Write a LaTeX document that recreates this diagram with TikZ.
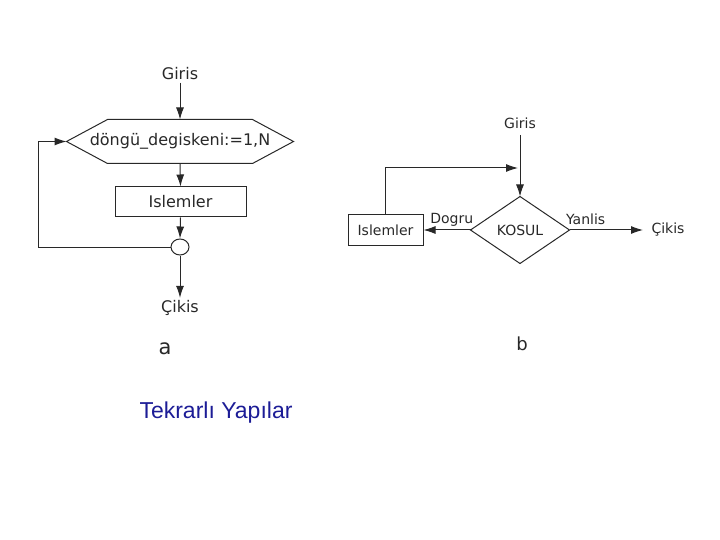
\documentclass[tikz,border=0pt]{standalone}
\usepackage{fontspec}
\setmainfont{DejaVu Sans}
\newfontfamily\titlefont{Liberation Sans}
\usetikzlibrary{arrows.meta, positioning, shapes.geometric}
\definecolor{titleblue}{RGB}{28,28,150}
\definecolor{inkgray}{RGB}{40,40,40}

\begin{document}
\begin{tikzpicture}[x=1pt, y=-1pt, line width=1pt, draw=inkgray,
		arr/.style={-{Latex[length=12pt,width=8pt]}},
		lefttxt/.style={font=\fontsize{16}{18}\selectfont, text=inkgray, inner sep=2pt},
		righttxt/.style={font=\fontsize{14}{16}\selectfont, text=inkgray, inner sep=2pt},
		box/.style={draw=inkgray, inner sep=0pt}]
	\useasboundingbox (0,0) rectangle (720,540);
	% a
	\node[lefttxt] (girisA) at (180,74) {Giris};
	\node[lefttxt, minimum width=226pt, minimum height=43pt, inner sep=0pt] (hex) at (180,141.5) {döngü\_degiskeni:=1,N};
	\draw[inkgray] ([xshift=41pt]hex.north west) -- ([xshift=-41pt]hex.north east) -- (hex.east)
		-- ([xshift=-41pt]hex.south east) -- ([xshift=41pt]hex.south west) -- (hex.west) -- cycle;
	\node[lefttxt, box, minimum width=131pt, minimum height=30pt] (islA) at (180.5,202) {Islemler};
	\node[draw=inkgray, ellipse, minimum width=18pt, minimum height=16pt, inner sep=0pt] (loop) at (180,247) {};
	\node[lefttxt] (cikisA) at (180,308) {Çikis};
	\coordinate (back) at (38,247);
	\draw[arr, inkgray] (girisA.south) -- (hex.north);
	\draw[arr, inkgray] (hex.south) -- (islA.north);
	\draw[arr, inkgray] (islA.south) -- (loop.north);
	\draw[arr, inkgray] (loop.west) -- (back) |- (hex.west);
	\draw[arr, inkgray] (loop.south) -- (cikisA.north);
	\node[font=\fontsize{21}{23}\selectfont, text=inkgray] (capA) at (165,349) {a};
	% b
	\node[righttxt] (girisB) at (520,123) {Giris};
	\node[righttxt, minimum width=98pt, minimum height=66pt, inner sep=0pt] (dia) at (520,230) {KOSUL};
	\draw[inkgray] (dia.north) -- (dia.east) -- (dia.south) -- (dia.west) -- cycle;
	\node[righttxt, box, minimum width=75pt, minimum height=30pt] (islB) at (385.5,230) {Islemler};
	\node[righttxt] (cikisB) at (668,230) {Çikis};
	\coordinate (join) at (518,168);
	\draw[arr, inkgray, shorten <=4pt] (girisB.south) -- (dia.north);
	\draw[arr, inkgray] (islB.north) |- (join);
	\draw[arr, inkgray] (dia.west) -- node[righttxt, above=1pt, pos=0.4] (dogru) {Dogru} (islB.east);
	\draw[arr, inkgray] (dia.east) -- node[righttxt, above=3pt, pos=0.22] (yanlis) {Yanlis} ([xshift=-6pt]cikisB.west);
	\node[font=\fontsize{18}{20}\selectfont, text=inkgray] (capB) at (522,344) {b};
	% title
	\node[font=\titlefont\fontsize{23}{26}\selectfont, text=titleblue] (title) at (216,413) {Tekrarlı Yapılar};
\end{tikzpicture}
\end{document}
